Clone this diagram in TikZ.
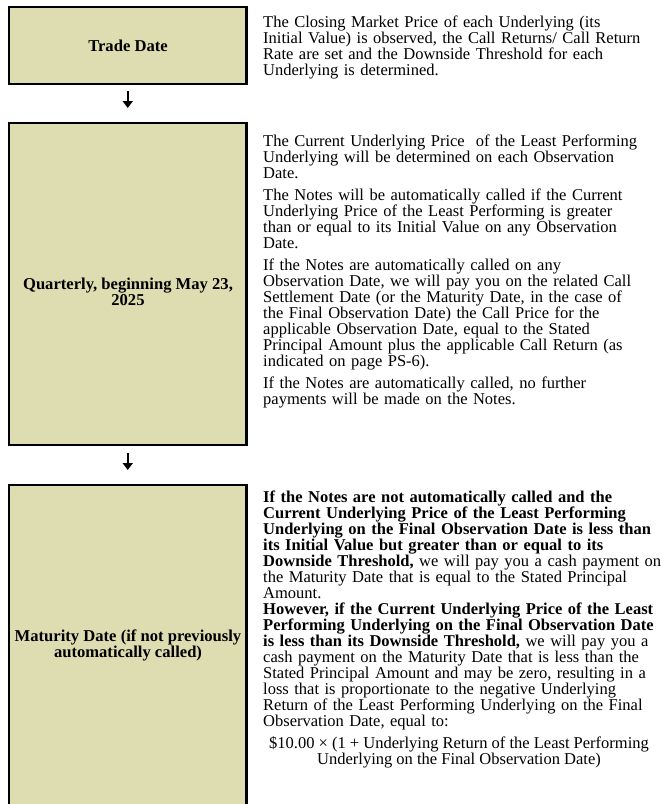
\documentclass[tikz,border=0pt]{standalone}
\usepackage{fontspec}
\setmainfont{Liberation Serif}
\usetikzlibrary{arrows.meta}
\definecolor{boxfill}{RGB}{221,221,177}
\begin{document}
\begin{tikzpicture}[x=1pt,y=-1pt,
  stagebox/.style={draw=black,line width=2.5pt,fill=boxfill},
  stagelabel/.style={font=\fontsize{16.6}{16}\selectfont\bfseries,align=center,inner sep=0pt,anchor=base},
  desc/.style={font=\fontsize{16.5}{16}\selectfont,align=left,text width=420pt,inner sep=0pt,anchor=base west},
  flow/.style={line width=1.6pt,-{Triangle[width=10pt,length=7pt]}}]
\useasboundingbox (0,0) rectangle (662,804);
% boxes
\path[stagebox] (9,7) rectangle (246.5,84);
\path[stagebox] (9,123) rectangle (246.5,445);
\path[stagebox] (9,485) rectangle (246.5,810);
\coordinate (b1) at (127.75,84);
\coordinate (b2top) at (127.75,123);
\coordinate (b2) at (127.75,445);
\coordinate (b3top) at (127.75,485);
% labels
\node[stagelabel] (l1) at (128,51.5) {Trade Date};
\node[stagelabel] (l2) at (128,305.5) {Quarterly, beginning May 23,\\2025};
\node[stagelabel] (l3) at (128,657.5) {Maturity Date (if not previously\\automatically called)};
% arrows
\draw[flow] ([yshift=-7pt]b1) -- ([yshift=15pt]b2top);
\draw[flow] ([yshift=-8pt]b2) -- ([yshift=15pt]b3top);
% descriptions
\node[desc] (t1) at (263,27) {The Closing Market Price of each Underlying (its\\
Initial Value) is observed, the Call Returns/ Call Return\\
Rate are set and the Downside Threshold for each\\
Underlying is determined.};
\node[desc] (t2) at (263,146) {The Current Underlying Price\ \ of the Least Performing\\
Underlying will be determined on each Observation\\
Date.\\[6pt]
The Notes will be automatically called if the Current\\
Underlying Price of the Least Performing is greater\\
than or equal to its Initial Value on any Observation\\
Date.\\[6pt]
If the Notes are automatically called on any\\
Observation Date, we will pay you on the related Call\\
Settlement Date (or the Maturity Date, in the case of\\
the Final Observation Date) the Call Price for the\\
applicable Observation Date, equal to the Stated\\
Principal Amount plus the applicable Call Return (as\\
indicated on page PS-6).\\[6pt]
If the Notes are automatically called, no further\\
payments will be made on the Notes.};
\node[desc] (t3) at (263,502) {\textbf{If the Notes are not automatically called and the}\\
\textbf{Current Underlying Price of the Least Performing}\\
\textbf{Underlying on the Final Observation Date is less than}\\
\textbf{its Initial Value but greater than or equal to its}\\
\textbf{Downside Threshold,} we will pay you a cash payment on\\
the Maturity Date that is equal to the Stated Principal\\
Amount.\\
\textbf{However, if the Current Underlying Price of the Least}\\
\textbf{Performing Underlying on the Final Observation Date}\\
\textbf{is less than its Downside Threshold,} we will pay you a\\
cash payment on the Maturity Date that is less than the\\
Stated Principal Amount and may be zero, resulting in a\\
loss that is proportionate to the negative Underlying\\
Return of the Least Performing Underlying on the Final\\
Observation Date, equal to:};
\node[font=\fontsize{16.5}{16}\selectfont,align=center,inner sep=0pt,anchor=base] (f) at (459,764) {\$10.00 × (1 + Underlying Return of the Least Performing\\
Underlying on the Final Observation Date)};
\end{tikzpicture}
\end{document}
